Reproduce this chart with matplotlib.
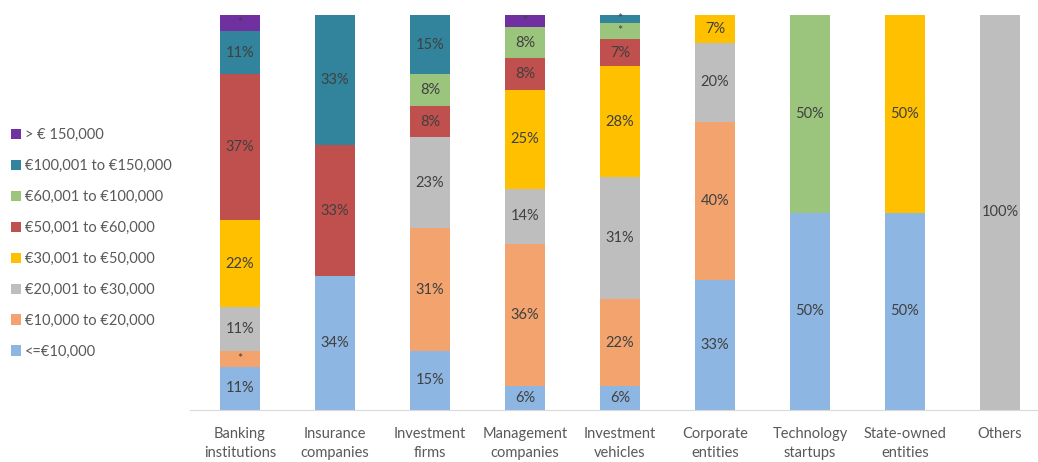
import matplotlib.pyplot as plt
import numpy as np

plt.rcParams['font.family'] = ['Lato', 'DejaVu Sans']

# Entity types along the x axis
entities = ['Banking\ninstitutions', 'Insurance\ncompanies', 'Investment\nfirms',
            'Management\ncompanies', 'Investment\nvehicles', 'Corporate\nentities',
            'Technology\nstartups', 'State-owned\nentities', 'Others']

# Salary bands, bottom to top of each bar
bands = ['<=€10,000', '€10,000 to €20,000', '€20,001 to €30,000', '€30,001 to €50,000',
         '€50,001 to €60,000', '€60,001 to €100,000', '€100,001 to €150,000', '> € 150,000']
colors = ['#8DB6E2', '#F2A36E', '#BEBEBE', '#FFC000',
          '#C0504D', '#9BC47D', '#31849B', '#7030A0']

# Share of each band per entity (%)
upto_10k = [11, 34, 15, 6, 6, 33, 50, 50, 0]
k10_20 = [4, 0, 31, 36, 22, 40, 0, 0, 0]
k20_30 = [11, 0, 23, 14, 31, 20, 0, 0, 100]
k30_50 = [22, 0, 0, 25, 28, 7, 0, 50, 0]
k50_60 = [37, 33, 8, 8, 7, 0, 0, 0, 0]
k60_100 = [0, 0, 8, 8, 4, 0, 50, 0, 0]
k100_150 = [11, 33, 15, 0, 2, 0, 0, 0, 0]
over_150k = [4, 0, 0, 3, 0, 0, 0, 0, 0]

series = [upto_10k, k10_20, k20_30, k30_50, k50_60, k60_100, k100_150, over_150k]

# segments too thin for a number get an asterisk
small = 5

fig = plt.figure(figsize=(10.38, 4.62), dpi=100)
ax = fig.add_axes([190 / 1038, 52 / 462, 848 / 1038, 395 / 462])

x = np.arange(len(entities))
bottom = np.zeros(len(entities))
handles = []
for band, vals, col in zip(bands, series, colors):
    vals = np.array(vals, dtype=float)
    h = ax.bar(x, vals, width=0.42, bottom=bottom, color=col, label=band)
    handles.append(h)
    for xi, v, b in zip(x, vals, bottom):
        if v <= 0:
            continue
        if v < small:
            ax.text(xi, b + v / 2, '*', ha='center', va='center',
                    fontsize=9, color='#404040')
        else:
            ax.text(xi, b + v / 2, f'{int(v)}%', ha='center', va='center',
                    fontsize=10.5, color='#404040')
    bottom += vals

ax.set_xlim(-0.526, 8.4)
ax.set_ylim(0, 100)
ax.set_xticks(x)
ax.set_xticklabels(entities, fontsize=10.5, color='#595959', linespacing=1.45)
ax.tick_params(axis='x', length=0, pad=12)
ax.set_yticks([])
for s in ['top', 'right', 'left']:
    ax.spines[s].set_visible(False)
ax.spines['bottom'].set_color('#D9D9D9')

fig.legend(handles[::-1], bands[::-1], loc='upper left',
           bbox_to_anchor=(-0.002, 1 - 115 / 462), frameon=False,
           fontsize=10.5, labelcolor='#595959', handlelength=0.7,
           handleheight=0.7, handletextpad=0.25, labelspacing=1.16)

fig.savefig('out.png', dpi=100)
plt.close(fig)
